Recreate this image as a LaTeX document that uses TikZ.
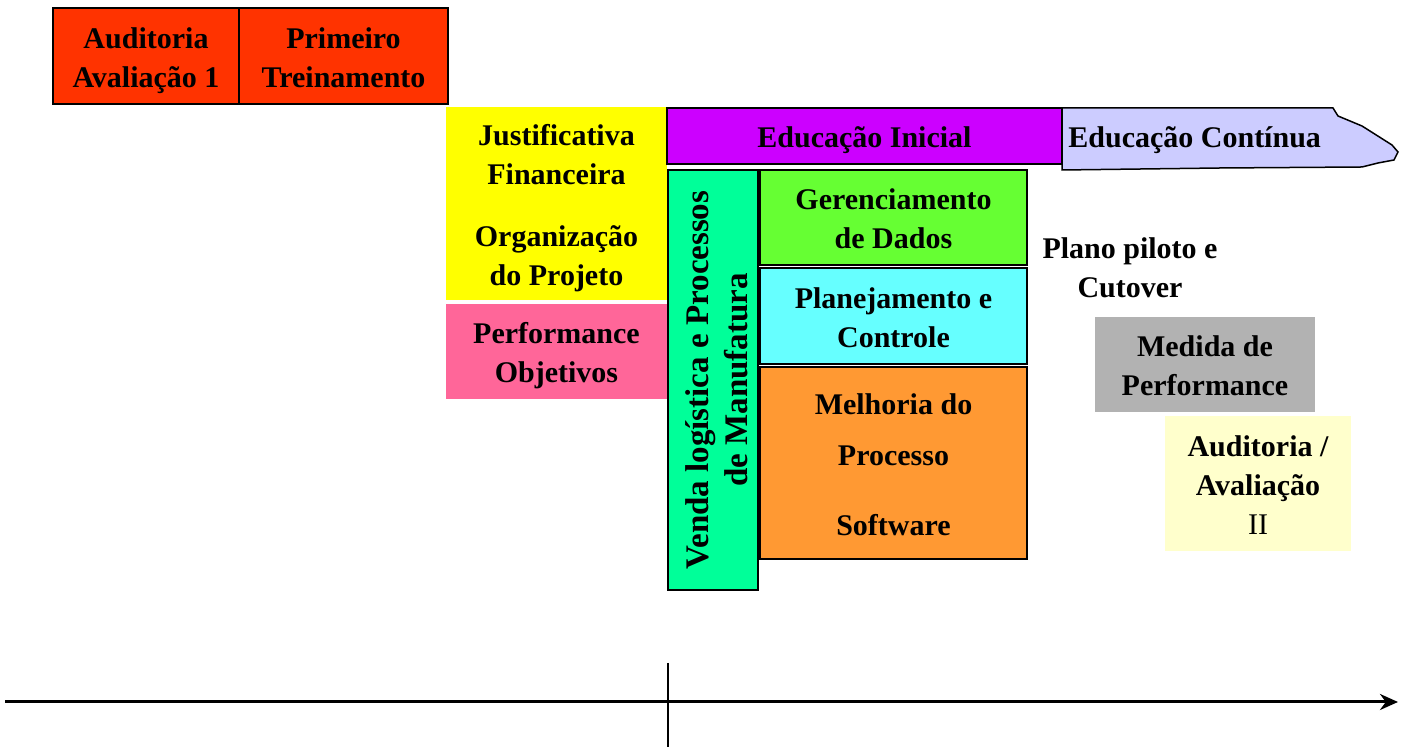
\documentclass[tikz,border=0pt]{standalone}
\usepackage{fontspec}
\setmainfont{Liberation Serif}
\usetikzlibrary{arrows.meta}
\definecolor{redbox}{HTML}{FF3300}
\definecolor{yellowbox}{HTML}{FFFF00}
\definecolor{pinkbox}{HTML}{FF6699}
\definecolor{purplebox}{HTML}{CC00FF}
\definecolor{lavbox}{HTML}{CCCCFF}
\definecolor{greenbox}{HTML}{00FF99}
\definecolor{limebox}{HTML}{66FF33}
\definecolor{cyanbox}{HTML}{66FFFF}
\definecolor{orangebox}{HTML}{FF9933}
\definecolor{graybox}{HTML}{B2B2B2}
\definecolor{paleyellow}{HTML}{FFFFCC}
\tikzset{phase/.style = {inner sep=0pt, align=center, font=\fontsize{15}{19.5}\selectfont\bfseries},
  boxsize/.style 2 args = {minimum width=#1, text width=#1, minimum height=#2, align=flush center,
    execute at begin node={\rule{0pt}{15pt}}, execute at end node={\rule[-3pt]{0pt}{3pt}}},
  outlined/.style = {phase, draw=black, line width=.75pt},
  arrow/.style = {line width=1.5pt,-{Stealth[length=9pt,width=8pt]}}}

\begin{document}
\begin{tikzpicture}[x=0.5pt,y=-0.5pt]
\useasboundingbox (0,0) rectangle (1405,747);

\node[outlined, fill=redbox, boxsize={93pt}{48pt}] (aud1) at (146,56) {Auditoria\\Avaliação 1};
\node[outlined, fill=redbox, boxsize={104.5pt}{48pt}] (trein) at (343.5,56) {Primeiro\\Treinamento};

\node[phase, fill=yellowbox, boxsize={110.5pt}{96.5pt}] (justif) at (556.5,203.5) {Justificativa\\Financeira\\[11.5pt]Organização\\do Projeto};
\node[phase, fill=pinkbox, boxsize={110.5pt}{47.5pt}] (perf) at (556.5,351.5) {Performance\\Objetivos};

\draw[fill=lavbox, line width=.75pt] (1062,108) -- (1333,108) -- (1338,116) -- (1362,126) -- (1392,145) -- (1398,152) -- (1394,160) -- (1378,163) -- (1362,167) -- (1220,168) -- (1062,170) -- cycle;
\node[phase, anchor=base west] (edcont) at (1068,148) {Educação Contínua};
\node[outlined, fill=purplebox, boxsize={197.5pt}{28pt}] (edini) at (864.5,136) {Educação Inicial};

\node[outlined, fill=greenbox, minimum width=45pt, minimum height=210pt] (venda) at (713,380) {};
\node[phase, rotate=90, font=\fontsize{16.5}{19.5}\selectfont\bfseries] (vendatxt) at (717,380) {Venda logística e Processos\\de Manufatura};

\node[outlined, fill=limebox, boxsize={133.5pt}{47.5pt}] (ger) at (893.5,217.5) {Gerenciamento\\de Dados};
\node[outlined, fill=cyanbox, boxsize={133.5pt}{48pt}] (plan) at (893.5,316) {Planejamento e\\Controle};
\node[outlined, fill=orangebox, boxsize={133.5pt}{96pt}] (melh) at (893.5,463) {Melhoria do\\[6pt]Processo\\[15.5pt]Software};

\node[phase] (piloto) at (1130,268) {Plano piloto e\\Cutover};
\node[phase, fill=graybox, boxsize={110pt}{47.5pt}] (medida) at (1205,364.5) {Medida de\\Performance};
\node[phase, fill=paleyellow, boxsize={93pt}{67.5pt}] (aud2) at (1258,483.5) {Auditoria /\\Avaliação\\{\mdseries II}};

% eixo do tempo
\coordinate (inicio) at (5,702);
\coordinate (fim) at (1398,702);
\coordinate (marcoA) at (668,663);
\coordinate (marcoB) at (668,747);
\draw[arrow] (inicio) -- (fim);
\draw[line width=.75pt] (marcoA) -- (marcoB);
\end{tikzpicture}
\end{document}
